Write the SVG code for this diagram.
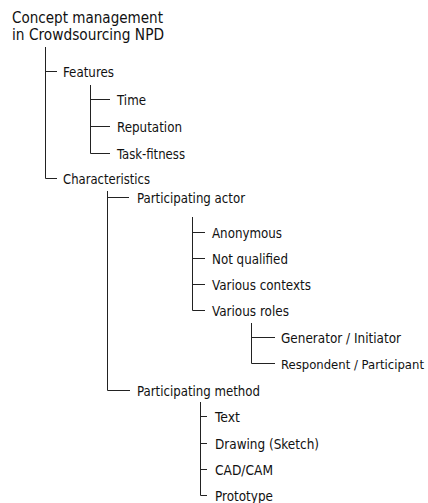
<svg xmlns="http://www.w3.org/2000/svg" width="428" height="503" viewBox="0 0 428 503">
<style>
text{font-family:"DejaVu Sans Condensed","DejaVu Sans","Liberation Sans",sans-serif;font-stretch:condensed;font-size:14px;fill:#111}
.t{font-size:15.5px}
.s{font-size:13px}
#connectors path{fill:none;stroke:#222;stroke-width:1}
</style>
<rect width="428" height="503" fill="#fff"/>
<g id="connectors">
<path d="M45.5 47V178.5H57"/>
<path d="M45.5 71.5H57"/>
<path d="M90.5 85V153.5H110"/>
<path d="M90.5 99.5H110M90.5 126.5H110"/>
<path d="M107.5 191V390.5H130"/>
<path d="M107.5 197.5H129"/>
<path d="M192.5 217V310.5H205"/>
<path d="M192.5 232.5H205M192.5 258.5H205M192.5 284.5H205"/>
<path d="M251.5 323V363.5H275"/>
<path d="M251.5 337.5H275"/>
<path d="M200.5 402V495.5H207"/>
<path d="M200.5 416.5H207M200.5 443.5H207M200.5 469.5H207"/>
</g>
<g id="root"><text class="t" x="12" y="23" textLength="151" lengthAdjust="spacingAndGlyphs">Concept management</text><text class="t" x="12" y="40" textLength="152" lengthAdjust="spacingAndGlyphs">in Crowdsourcing NPD</text></g>
<g id="features"><text x="63" y="76.5" textLength="51" lengthAdjust="spacingAndGlyphs">Features</text></g>
<g id="time"><text x="117" y="104.5" textLength="29" lengthAdjust="spacingAndGlyphs">Time</text></g>
<g id="reputation"><text x="117" y="131.5" textLength="65" lengthAdjust="spacingAndGlyphs">Reputation</text></g>
<g id="taskfitness"><text x="117" y="158.5" textLength="68" lengthAdjust="spacingAndGlyphs">Task-fitness</text></g>
<g id="characteristics"><text x="63" y="183.5" textLength="87" lengthAdjust="spacingAndGlyphs">Characteristics</text></g>
<g id="actor"><text x="137" y="202.5" textLength="108" lengthAdjust="spacingAndGlyphs">Participating actor</text></g>
<g id="anonymous"><text x="212" y="237.5" textLength="70" lengthAdjust="spacingAndGlyphs">Anonymous</text></g>
<g id="notqualified"><text x="212" y="263.5" textLength="76" lengthAdjust="spacingAndGlyphs">Not qualified</text></g>
<g id="contexts"><text x="212" y="289.5" textLength="99" lengthAdjust="spacingAndGlyphs">Various contexts</text></g>
<g id="roles"><text x="212" y="315.5" textLength="77" lengthAdjust="spacingAndGlyphs">Various roles</text></g>
<g id="generator"><text x="281" y="342.5" textLength="120" lengthAdjust="spacingAndGlyphs">Generator / Initiator</text></g>
<g id="respondent"><text class="s" x="281" y="368.5" textLength="143" lengthAdjust="spacingAndGlyphs">Respondent / Participant</text></g>
<g id="method"><text x="137" y="395.5" textLength="123" lengthAdjust="spacingAndGlyphs">Participating method</text></g>
<g id="text"><text x="215" y="421.5" textLength="25" lengthAdjust="spacingAndGlyphs">Text</text></g>
<g id="drawing"><text x="215" y="448.5" textLength="104" lengthAdjust="spacingAndGlyphs">Drawing (Sketch)</text></g>
<g id="cadcam"><text x="215" y="474.5" textLength="58" lengthAdjust="spacingAndGlyphs">CAD/CAM</text></g>
<g id="prototype"><text x="215" y="500.5" textLength="58" lengthAdjust="spacingAndGlyphs">Prototype</text></g>
</svg>
